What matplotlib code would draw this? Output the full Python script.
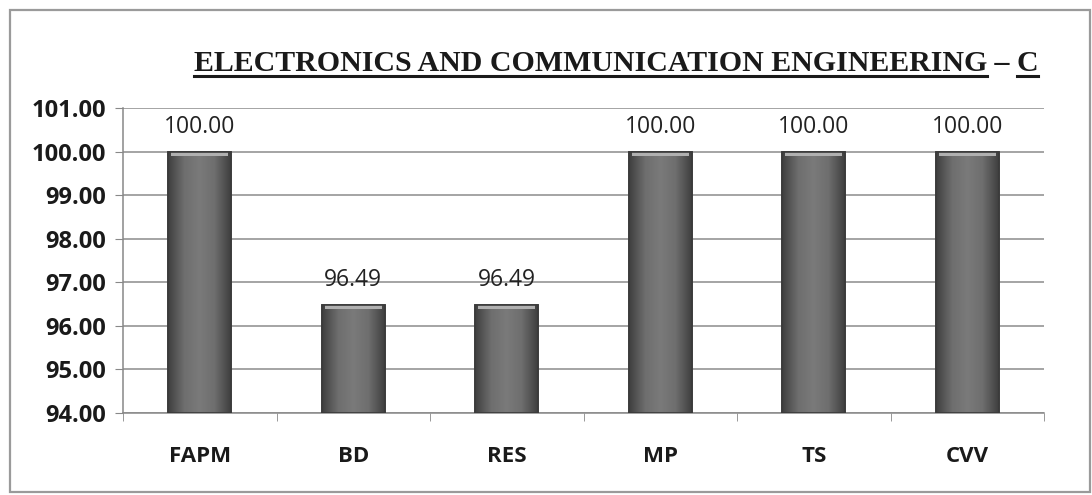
import matplotlib
matplotlib.use("Agg")
import matplotlib.pyplot as plt
import numpy as np
from matplotlib.lines import Line2D
from matplotlib.patches import Rectangle
from matplotlib.colors import LinearSegmentedColormap

categories = ["FAPM", "BD", "RES", "MP", "TS", "CVV"]
values = [100.00, 96.49, 96.49, 100.00, 100.00, 100.00]
yticks = [94, 95, 96, 97, 98, 99, 100, 101]
title_main = "ELECTRONICS AND COMMUNICATION ENGINEERING"
title_dash = " \u2013 "
title_end = "C"

W, H = 1092, 495
fig = plt.figure(figsize=(W / 100, H / 100), dpi=100)
fig.patch.set_facecolor("white")

# outer frame
fig.add_artist(Rectangle((10 / W, 1 - 492 / H), 1080 / W, 482 / H, transform=fig.transFigure,
                         fill=False, edgecolor="#9a9a9a", linewidth=1.6))

ax = fig.add_axes([123 / W, 1 - 413 / H, (1044 - 123) / W, (413 - 108) / H])
x = list(range(len(categories)))
bw = 0.41
bars = ax.bar(x, values, width=bw, color="#666666", edgecolor="#3a3a3a", linewidth=1.2,
              zorder=3)
ax.set_ylim(94, 101)
ax.set_xlim(-0.5, len(categories) - 0.5)

# horizontal gradient shading inside the bars
cmap = LinearSegmentedColormap.from_list("bev", ["#404040", "#6e6e6e", "#7a7a7a", "#6e6e6e", "#404040"])
grad = np.linspace(0, 1, 64).reshape(1, -1)
for b, xi, v in zip(bars, x, values):
    im = ax.imshow(grad, cmap=cmap, aspect="auto", extent=(xi - bw / 2, xi + bw / 2, 94, v),
                   zorder=3.5)
    im.set_clip_path(b)
    ax.add_patch(Rectangle((xi - bw / 2 + 0.02, v - 0.1), bw - 0.04, 0.08, facecolor="#b0b0b0",
                           edgecolor="none", zorder=4))
    ax.add_patch(Rectangle((xi - bw / 2, 94), bw, v - 94, fill=False, edgecolor="#3a3a3a",
                           linewidth=1.2, zorder=4.5))
ax.set_ylim(94, 101)
ax.set_xlim(-0.5, len(categories) - 0.5)

ax.set_yticks(yticks)
ax.set_yticklabels([f"{t:.2f}" for t in yticks], fontsize=17, fontweight="bold",
                   family=["Open Sans", "DejaVu Sans"], color="#1a1a1a")
ax.set_xticks(x)
ax.set_xticklabels(categories, fontsize=16, fontweight="bold",
                   family=["Open Sans", "DejaVu Sans"], color="#1a1a1a")
ax.tick_params(axis="x", length=0, pad=24)
ax.tick_params(axis="y", length=6, color="#888888", pad=6)
ax.set_xticks([i - 0.5 for i in range(len(categories) + 1)], minor=True)
ax.tick_params(axis="x", which="minor", length=6, color="#888888", direction="out")

ax.grid(axis="y", color="#8c8c8c", linewidth=1.1, zorder=0)
for s in ["top", "right"]:
    ax.spines[s].set_visible(False)
for s in ["left", "bottom"]:
    ax.spines[s].set_color("#888888")
    ax.spines[s].set_linewidth(1.1)

for xi, v in zip(x, values):
    ax.annotate(f"{v:.2f}", (xi, v), xytext=(0, 9), textcoords="offset points",
                ha="center", va="bottom", fontsize=16.5, family=["Open Sans", "DejaVu Sans"],
                color="#222222")

# title with underlines
renderer = fig.canvas.get_renderer()
tfont = dict(fontsize=21.5, fontweight="bold", family=["Liberation Serif", "DejaVu Serif"],
             color="#1a1a1a")
t1 = fig.text(0, 0, title_main, **tfont)
t2 = fig.text(0, 0, title_dash, **tfont)
t3 = fig.text(0, 0, title_end, **tfont)
w1 = t1.get_window_extent(renderer).width
w2 = t2.get_window_extent(renderer).width
w3 = t3.get_window_extent(renderer).width
total = w1 + w2 + w3
x0 = 616 - total / 2
ybase = H - 71
t1.set_position((x0 / W, ybase / H))
t2.set_position(((x0 + w1) / W, ybase / H))
t3.set_position(((x0 + w1 + w2) / W, ybase / H))
uy = (ybase - 5) / H
fig.add_artist(Line2D([x0 / W, (x0 + w1) / W], [uy, uy], transform=fig.transFigure,
                      color="#1a1a1a", linewidth=2.2))
fig.add_artist(Line2D([(x0 + w1 + w2) / W, (x0 + w1 + w2 + w3) / W], [uy, uy],
                      transform=fig.transFigure, color="#1a1a1a", linewidth=2.2))

fig.savefig("out.png", dpi=100)
